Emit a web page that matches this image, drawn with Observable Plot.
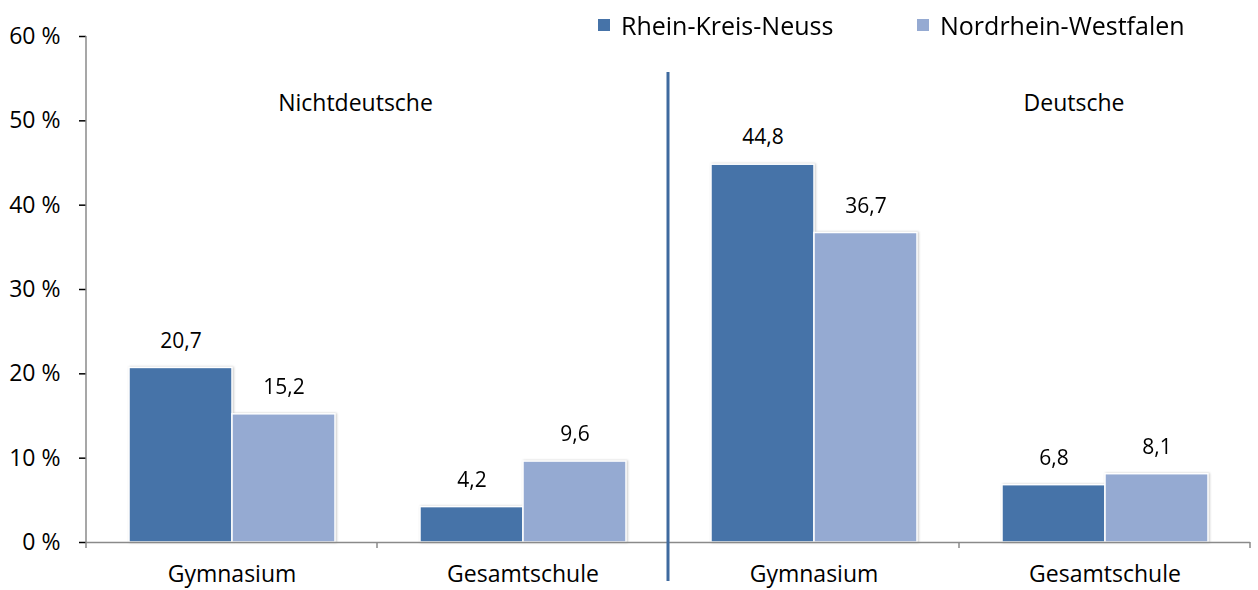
<!DOCTYPE html>
<html>
<head>
<meta charset="utf-8">
<script src="https://cdn.jsdelivr.net/npm/d3@7"></script>
<script src="https://cdn.jsdelivr.net/npm/@observablehq/plot@0.6"></script>
<style>
  html, body { margin: 0; padding: 0; background: #fff; }
  #wrap { position: relative; width: 1258px; height: 590px; overflow: hidden; font-family: "Open Sans", sans-serif; }
  .legend-item { position: absolute; top: 12px; display: flex; align-items: center; height: 26px; }
  .legend-item .sw { width: 12px; height: 12px; margin-right: 11px; flex: none; }
  .legend-item .lb { font-size: 25px; line-height: 26px; color: #000; white-space: nowrap; }
</style>
</head>
<body>
<div id="wrap"></div>
<script>
// ---- data ----
const groups = ["Nichtdeutsche", "Nichtdeutsche", "Deutsche", "Deutsche"];
const schools = ["Gymnasium", "Gesamtschule", "Gymnasium", "Gesamtschule"];
const series = ["Rhein-Kreis-Neuss", "Nordrhein-Westfalen"];
const rheinKreisNeuss = [20.7, 4.2, 44.8, 6.8];
const nordrheinWestfalen = [15.2, 9.6, 36.7, 8.1];
const yTicks = [0, 10, 20, 30, 40, 50, 60];
const sectionLabels = ["Nichtdeutsche", "Deutsche"];
const colors = ["#4673A8", "#95AAD2"];

const keys = groups.map((g, i) => g + "|" + schools[i]);
const data = [];
keys.forEach((k, i) => {
  data.push({key: k, series: series[0], value: rheinKreisNeuss[i]});
  data.push({key: k, series: series[1], value: nordrheinWestfalen[i]});
});
const fmt = v => String(v).replace(".", ",");

const plot = Plot.plot({
  width: 1258,
  height: 590,
  marginLeft: 84,
  marginRight: 7,
  marginTop: 36,
  marginBottom: 48,
  style: {fontFamily: "Open Sans, sans-serif", fontSize: "23px", color: "#000", background: "transparent", overflow: "visible"},
  fx: {domain: keys, padding: 0, label: null, axis: "bottom", tickSize: 0, tickPadding: 23, tickFormat: k => k.split("|")[1]},
  x: {domain: series, axis: null, paddingInner: 0, paddingOuter: 0.405},
  y: {domain: [0, 60], ticks: yTicks, tickFormat: d => d + " %", tickSize: 7, tickPadding: 19, label: null},
  color: {domain: series, range: colors},
  marks: [
    Plot.barY(data, {fx: "key", x: "series", y: "value", fill: "series", stroke: "white", strokeWidth: 1.5, inset: 0}),
    Plot.text(data, {fx: "key", x: "series", y: "value", text: d => fmt(d.value), dy: -27, fontSize: 21, fill: "#000"}),
    Plot.ruleY([0], {stroke: "#8a8a8a", strokeWidth: 1.5}),
    Plot.text([{key: keys[0], label: sectionLabels[0]}], {fx: "key", text: "label", frameAnchor: "top-right", textAnchor: "middle", dx: -22, dy: 58, fontSize: 23, fill: "#000"}),
    Plot.text([{key: keys[3], label: sectionLabels[1]}], {fx: "key", text: "label", frameAnchor: "top", textAnchor: "middle", dx: -31, dy: 58, fontSize: 23, fill: "#000"})
  ]
});

const svg = d3.select(plot);
const fxs = plot.scale("fx");
const ys = plot.scale("y");
const y0 = ys.apply(0), yTop = ys.apply(60);

// subtle bar shadow
svg.select('g[aria-label="bar"]').style("filter", "drop-shadow(1px 0px 1px rgba(0,0,0,0.22))");
// gray y tick lines
svg.selectAll('g[aria-label="y-axis tick"]').attr("stroke", "#8a8a8a").attr("stroke-width", 1.5);

const extra = svg.append("g");
// y axis line
extra.append("line").attr("x1", fxs.apply(keys[0])).attr("x2", fxs.apply(keys[0]))
  .attr("y1", yTop).attr("y2", y0 + 6).attr("stroke", "#8a8a8a").attr("stroke-width", 1.5);
// x boundary ticks
const bounds = keys.map(k => fxs.apply(k)).concat([fxs.apply(keys[keys.length - 1]) + fxs.bandwidth]);
bounds.slice(1).forEach(b => {
  extra.append("line").attr("x1", b).attr("x2", b).attr("y1", y0).attr("y2", y0 + 6)
    .attr("stroke", "#8a8a8a").attr("stroke-width", 1.5);
});
// divider between groups
const div = fxs.apply(keys[2]);
extra.append("line").attr("x1", div).attr("x2", div).attr("y1", yTop + 36).attr("y2", y0 + 39)
  .attr("stroke", "#3F6A9F").attr("stroke-width", 3);

const wrap = document.getElementById("wrap");
wrap.appendChild(plot);
plot.style.position = "absolute";
plot.style.left = "0px";
plot.style.top = "0px";

// legend
const legendLeft = [598, 917];
series.forEach((s, i) => {
  const item = document.createElement("div");
  item.className = "legend-item";
  item.style.left = legendLeft[i] + "px";
  const sw = document.createElement("span");
  sw.className = "sw";
  sw.style.background = colors[i];
  const lb = document.createElement("span");
  lb.className = "lb";
  lb.textContent = s;
  item.appendChild(sw);
  item.appendChild(lb);
  wrap.appendChild(item);
});
</script>
</body>
</html>
